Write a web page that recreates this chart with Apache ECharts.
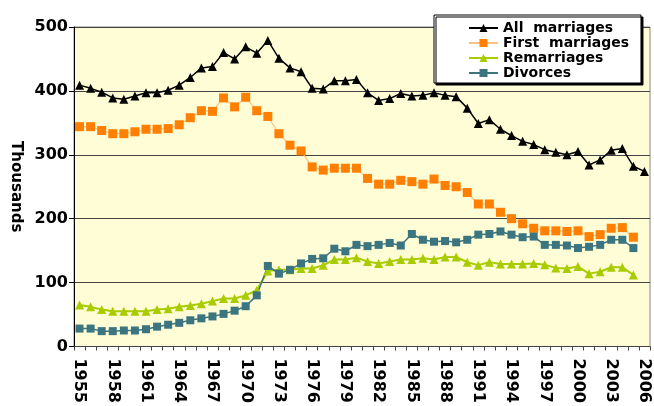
<!DOCTYPE html>
<html>
<head>
<meta charset="utf-8">
<script src="https://cdn.jsdelivr.net/npm/echarts@6/dist/echarts.min.js"></script>
<style>
html,body{margin:0;padding:0;background:#fff;}
#chart{width:654px;height:406px;}
</style>
</head>
<body>
<div id="chart"></div>
<script>
var years = [];
for (var y = 1955; y <= 2006; y++) years.push(String(y));

var allMarriages = [409,404,398,389,387,392,397,397,401,409,
                    421,436,438,460,450,469,459,479,451,436,
                    430,404,403,416,416,418,397,385,388,396,
                    392,393,397,393,391,373,349,355,340,330,
                    321,316,308,304,300,305,284,292,307,310,
                    282,274];
var firstMarriages = [344,344,338,333,333,336,340,340,341,347,
                      358,369,368,389,375,390,369,360,333,315,
                      306,281,276,279,279,279,263,254,254,260,
                      258,254,262,252,250,241,223,223,210,200,
                      192,185,181,181,180,181,172,175,185,186,
                      171,null];
var remarriages = [65,62,58,55,55,55,55,58,59,62,
                   64,67,71,75,75,80,88,118,120,120,
                   122,122,127,136,136,139,133,130,133,136,
                   136,138,136,140,140,132,127,132,129,129,
                   129,130,128,123,122,125,114,117,124,124,
                   112,null];
var divorces = [28,28,24,24,25,25,27,31,34,37,
                41,44,47,51,56,63,80,126,114,120,
                130,137,138,153,149,159,157,159,162,158,
                176,167,164,165,163,167,175,176,180,175,
                171,172,159,159,158,154,156,159,167,167,
                154,null];
var yTicks = [0,100,200,300,400,500];
var seriesNames = ['All  marriages', 'First  marriages', 'Remarriages', 'Divorces'];

var FONT = 'DejaVu Sans';
var chart = echarts.init(document.getElementById('chart'), null, {renderer:'canvas'});
chart.setOption({
  animation: false,
  backgroundColor: '#ffffff',
  grid: {
    left: 74, right: 4, top: 27, bottom: 58,
    show: true, backgroundColor: '#FFFDD5', borderColor: '#888888', borderWidth: 1
  },
  legend: {
    orient: 'vertical',
    left: 434, top: 15,
    padding: [6, 12, 3, 34],
    itemWidth: 29, itemHeight: 10, itemGap: 1,
    backgroundColor: '#ffffff',
    borderColor: '#000000', borderWidth: 1,
    shadowColor: '#000000', shadowBlur: 0, shadowOffsetX: 2, shadowOffsetY: 2,
    textStyle: {fontFamily: FONT, fontWeight: 'bold', fontSize: 14, color: '#000'},
    data: seriesNames
  },
  xAxis: {
    type: 'category',
    data: years,
    boundaryGap: true,
    axisLine: {lineStyle: {color: '#444', width: 1}},
    axisTick: {show: true, interval: 0, length: 4, lineStyle: {color: '#444'}},
    axisLabel: {
      interval: 2, rotate: -90, margin: 12,
      fontFamily: FONT, fontWeight: 'bold', fontSize: 16, color: '#000'
    },
    splitLine: {show: false}
  },
  yAxis: {
    type: 'value',
    min: yTicks[0], max: yTicks[yTicks.length - 1], interval: 100,
    name: 'Thousands', nameLocation: 'middle', nameRotate: -90, nameGap: 47,
    nameTextStyle: {fontFamily: FONT, fontWeight: 'bold', fontSize: 15, color: '#000'},
    axisLine: {show: true, lineStyle: {color: '#000', width: 1}},
    axisTick: {show: true, length: 5, lineStyle: {color: '#000'}},
    axisLabel: {margin: 6, fontFamily: FONT, fontWeight: 'bold', fontSize: 16, color: '#000'},
    splitLine: {show: true, lineStyle: {color: '#444', width: 1}}
  },
  series: [
    {
      name: seriesNames[0], type: 'line', data: allMarriages,
      symbol: 'triangle', symbolSize: 9, showAllSymbol: true,
      lineStyle: {color: '#000', width: 1.5},
      itemStyle: {color: '#000'}
    },
    {
      name: seriesNames[1], type: 'line', data: firstMarriages,
      symbol: 'rect', symbolSize: 9, showAllSymbol: true,
      lineStyle: {color: '#FFC088', width: 1.2},
      itemStyle: {color: '#FF7F00'}
    },
    {
      name: seriesNames[2], type: 'line', data: remarriages,
      symbol: 'triangle', symbolSize: 9, showAllSymbol: true,
      lineStyle: {color: '#A8CC00', width: 2},
      itemStyle: {color: '#A8CC00'}
    },
    {
      name: seriesNames[3], type: 'line', data: divorces,
      symbol: 'rect', symbolSize: 8, showAllSymbol: true,
      lineStyle: {color: '#3A7580', width: 1.5},
      itemStyle: {color: '#3A7580'}
    }
  ]
});
</script>
</body>
</html>
